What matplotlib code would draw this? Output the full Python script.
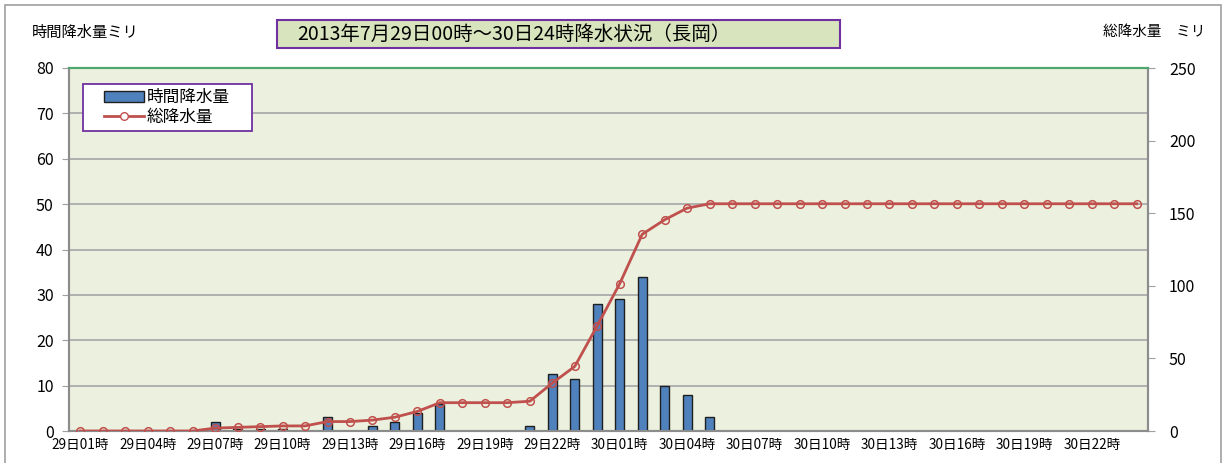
import matplotlib
matplotlib.use("Agg")
import matplotlib.pyplot as plt
from matplotlib.patches import Rectangle
from matplotlib.lines import Line2D
from matplotlib.patches import Patch
import numpy as np

plt.rcParams['font.family'] = ['Noto Sans CJK JP', 'DejaVu Sans']

# hourly rainfall (mm), 29th 01h .. 30th 24h
hourly = [0, 0, 0, 0, 0, 0, 2, 0.5, 0.5, 0.5, 0, 3, 0, 1, 2, 4,
          6, 0, 0, 0, 1, 12.5, 11.5, 28, 29, 34, 10, 8, 3, 0, 0, 0,
          0, 0, 0, 0, 0, 0, 0, 0, 0, 0, 0, 0, 0, 0, 0, 0]
# total rainfall (mm)
total = [0, 0, 0, 0, 0, 0, 2, 2.5, 3, 3.5, 3.5, 6.5, 6.5, 7.5, 9.5, 13.5,
         19.5, 19.5, 19.5, 19.5, 20.5, 33, 44.5, 72.5, 101.5, 135.5, 145.5, 153.5, 156.5, 156.5, 156.5, 156.5,
         156.5, 156.5, 156.5, 156.5, 156.5, 156.5, 156.5, 156.5, 156.5, 156.5, 156.5, 156.5, 156.5, 156.5, 156.5, 156.5]
tick_labels = ['29日01時', '29日04時', '29日07時', '29日10時', '29日13時', '29日16時',
               '29日19時', '29日22時', '30日01時', '30日04時', '30日07時', '30日10時',
               '30日13時', '30日16時', '30日19時', '30日22時']

title = '2013年7月29日00時～30日24時降水状況（長岡）'
left_label = '時間降水量ミリ'
right_label = '総降水量　ミリ'

W, H = 1222, 463
fig = plt.figure(figsize=(W / 100, H / 100), dpi=100)
fig.patch.set_facecolor('white')

# outer chart border
fig.add_artist(Rectangle((5 / W, -0.05), (W - 6) / W, 1.05 - 5 / H, transform=fig.transFigure,
                         fill=False, edgecolor='#A0A0A0', lw=1.2))

ax = fig.add_axes([69 / W, 1 - 431 / H, (1148 - 69) / W, (431 - 68) / H])
ax.set_facecolor('#EBF1DE')
x = np.arange(len(hourly))

ax.bar(x, hourly, width=0.4, color='#4F81BD', edgecolor='#1F1F1F', linewidth=1, zorder=3)
ax.set_xlim(-0.5, len(hourly) - 0.5)
ax.set_ylim(0, 80)
ax.set_yticks(range(0, 81, 10))
ax.yaxis.grid(True, color='#A6A6A6', lw=1.2, zorder=0)
ax.set_axisbelow(True)
ax.set_xticks(x[::3])
ax.set_xticklabels(tick_labels, fontsize=9.8)
ax.tick_params(axis='x', length=0, pad=5)
ax.tick_params(axis='y', labelsize=11.5, length=5, color='#A0A0A0', pad=6)

ax2 = ax.twinx()
ax2.plot(x, total, color='#C0504D', lw=2, marker='o', markersize=5.5,
         markerfacecolor='none', markeredgecolor='#C0504D', markeredgewidth=1.1, zorder=4)
ax2.set_ylim(0, 250)
ax2.set_yticks(range(0, 251, 50))
ax2.tick_params(axis='y', labelsize=11.5, length=5, color='#A0A0A0', pad=10)

for a in (ax, ax2):
    for side in ('left', 'right', 'bottom'):
        a.spines[side].set_color('#8C8C8C')
        a.spines[side].set_linewidth(1.5)
    a.spines['top'].set_color('#4EA76E')
    a.spines['top'].set_linewidth(1.5)

# axis titles
fig.text(32 / W, 1 - 32 / H, left_label, fontsize=11, va='center', ha='left')
fig.text(1205 / W, 1 - 32 / H, right_label, fontsize=10.5, va='center', ha='right')

# title box
fig.add_artist(Rectangle((277 / W, 1 - 48 / H), (840 - 277) / W, 28 / H, transform=fig.transFigure,
                         facecolor='#D7E4BD', edgecolor='#7030A0', lw=1.5))
fig.text(297 / W, 1 - 34 / H, title, fontsize=14, va='center', ha='left')

# legend frame drawn by hand, legend entries placed inside it
fig.add_artist(Rectangle((83 / W, 1 - 131 / H), (252 - 83) / W, 47 / H, transform=fig.transFigure,
                         facecolor='white', edgecolor='#7030A0', lw=1.3, zorder=9))
handles = [Patch(facecolor='#4F81BD', edgecolor='#1F1F1F', lw=1),
           Line2D([], [], color='#C0504D', lw=2, marker='o', markersize=5.5,
                  markerfacecolor='white', markeredgecolor='#C0504D')]
leg = fig.legend(handles, ['時間降水量', '総降水量'], loc='center left',
                 bbox_to_anchor=(104 / W, 1 - 107.5 / H), bbox_transform=fig.transFigure,
                 borderaxespad=0, frameon=False, fontsize=12, handlelength=2.4,
                 handleheight=0.6, handletextpad=0.15, borderpad=0, labelspacing=0.15)
leg.set_zorder(10)

fig.savefig('out.png', dpi=100)
